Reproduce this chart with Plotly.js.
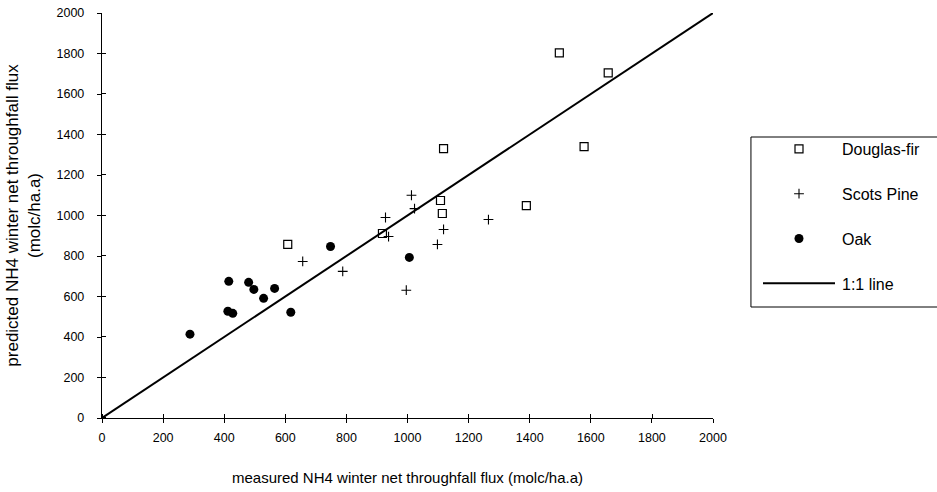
<!DOCTYPE html>
<html>
<head>
<meta charset="utf-8">
<script src="https://cdn.plot.ly/plotly-3.0.1.min.js"></script>
<style>html,body{margin:0;padding:0;background:#fff}#chart{width:937px;height:492px}</style>
</head>
<body>
<div id="chart"></div>
<script>
// Measured vs predicted NH4 winter net throughfall flux (molc/ha.a)
const douglasMeasured  = [1497, 1657, 1578, 1118, 1389, 1108, 1114, 918, 608];
const douglasPredicted = [1803, 1704, 1340, 1330, 1049, 1074, 1010, 911, 857];

const pineMeasured  = [1013, 1023, 928, 938, 1118, 1098, 1265, 996, 657, 788];
const pinePredicted = [1100, 1034, 990, 896, 931, 857, 980, 631, 773, 724];

const oakMeasured  = [288, 415, 480, 497, 565, 529, 412, 428, 618, 748, 1006];
const oakPredicted = [414, 675, 670, 635, 640, 591, 527, 517, 522, 847, 793];

const oneToOne = [0, 2000];
const tickVals = [0, 200, 400, 600, 800, 1000, 1200, 1400, 1600, 1800, 2000];

const font = 'Liberation Sans, Arial, sans-serif';

const traces = [
  {x: douglasMeasured, y: douglasPredicted, name: 'Douglas-fir', type: 'scatter', mode: 'markers',
   legendgroup: 'a', marker: {symbol: 'square-open', size: 8, color: '#000', line: {width: 1.2, color: '#000'}}},
  {x: pineMeasured, y: pinePredicted, name: 'Scots Pine', type: 'scatter', mode: 'markers',
   legendgroup: 'b', marker: {symbol: 'cross-thin-open', size: 7, color: '#000', line: {width: 1.1, color: '#000'}}},
  {x: oakMeasured, y: oakPredicted, name: 'Oak', type: 'scatter', mode: 'markers',
   legendgroup: 'c', marker: {symbol: 'circle', size: 9, color: '#000'}},
  {x: oneToOne, y: oneToOne, name: '1:1 line', type: 'scatter', mode: 'lines',
   legendgroup: 'd', line: {color: '#000', width: 2}}
];

// inner half of each crossing tick, nudged off the major values so it is kept
const innerTicks = tickVals.map(v => v + 0.5);

const axisBase = {
  range: [0, 2000], tickvals: tickVals, showgrid: false, zeroline: false,
  showline: true, linecolor: '#000', linewidth: 1.2, tickcolor: '#000', tickwidth: 1, ticklen: 4,
  ticks: 'outside', tickfont: {size: 12.5},
  minor: {tickvals: innerTicks, ticks: 'inside', ticklen: 4, tickwidth: 1, tickcolor: '#000', showgrid: false},
  fixedrange: true
};

const W = 937, H = 492, M = {l: 102, r: 223, t: 13, b: 74};
const plotW = W - M.l - M.r, plotH = H - M.t - M.b;
const px2x = px => (px - M.l) / plotW;
const px2y = py => (H - M.b - py) / plotH;

const layout = {
  width: W, height: H,
  margin: M,
  paper_bgcolor: '#fff', plot_bgcolor: '#fff',
  font: {family: font, color: '#000', size: 11},
  showlegend: true,
  legend: {
    x: px2x(756), xanchor: 'left', y: px2y(132), yanchor: 'top',
    borderwidth: 0, bgcolor: 'rgba(0,0,0,0)',
    font: {family: font, size: 16, color: '#000'},
    traceorder: 'grouped', tracegroupgap: 21,
    itemwidth: 76
  },
  // legend frame, running off the right edge
  shapes: [{
    type: 'rect', xref: 'paper', yref: 'paper',
    x0: px2x(752), x1: px2x(960), y0: px2y(307), y1: px2y(137),
    line: {color: '#000', width: 1}, fillcolor: 'rgba(0,0,0,0)', layer: 'below'
  }],
  xaxis: Object.assign({}, axisBase, {
    ticklabelstandoff: 4,
    title: {text: 'measured NH4 winter net throughfall flux (molc/ha.a)', font: {size: 15}, standoff: 28}
  }),
  yaxis: Object.assign({}, axisBase, {
    ticklabelstandoff: 10,
    title: {text: 'predicted NH4 winter net throughfall flux<br>(molc/ha.a)', font: {size: 17}, standoff: 11}
  })
};

Plotly.newPlot('chart', traces, layout, {displayModeBar: false, staticPlot: true}).then(gd => {
  // stretch the legend sample of the 1:1 line
  const path = gd.querySelector('.legend .legendlines path');
  if (!path) return;
  const d = path.getAttribute('d') || '';
  const m = d.match(/M\s*([-\d.]+)\s*,\s*([-\d.]+)/);
  if (!m) return;
  const box = path.getBoundingClientRect();
  const x0 = parseFloat(m[1]) + (763 - box.left);
  path.setAttribute('d', 'M' + x0 + ',' + m[2] + 'h72');
});
</script>
</body>
</html>
